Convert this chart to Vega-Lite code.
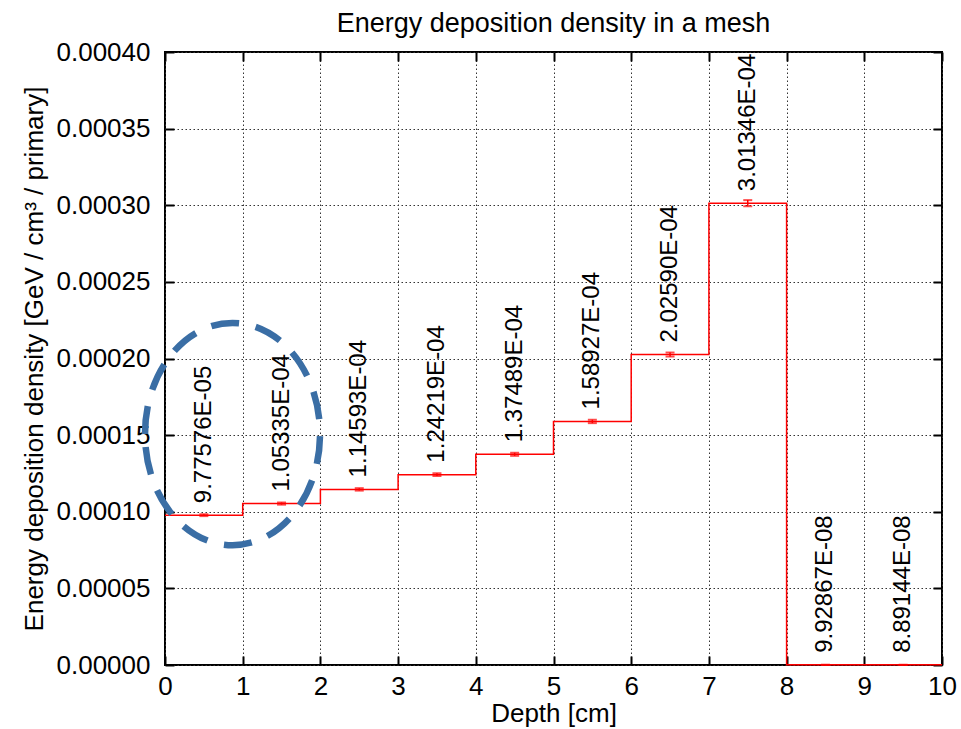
{
  "$schema": "https://vega.github.io/schema/vega-lite/v6.json",
  "width": 777,
  "height": 613,
  "autosize": {"type": "none"},
  "padding": {"left": 165, "top": 52, "right": 19, "bottom": 64},
  "background": "white",
  "title": {"text": "Energy deposition density in a mesh", "frame": "group", "anchor": "middle", "fontSize": 27, "font": "Liberation Sans", "fontWeight": "normal", "color": "black", "baseline": "alphabetic", "offset": -20},
  "config": {
    "view": {"stroke": "black", "strokeWidth": 2},
    "font": "Liberation Sans",
    "axis": {
      "domain": false, "grid": false, "labelFlush": false, "minExtent": 0,
      "gridColor": "#333333", "gridDash": [1.5, 2.5], "gridWidth": 1, "gridOpacity": 1,
      "tickColor": "black", "tickWidth": 2, "tickSize": -9,
      "labelFont": "Liberation Sans", "labelFontSize": 26, "labelColor": "black",
      "titleFont": "Liberation Sans", "titleFontSize": 26, "titleFontWeight": "normal", "titleColor": "black"
    }
  },
  "datasets": {
    "steps": [
      {"depth": 0, "value": 9.77576e-5},
      {"depth": 1, "value": 1.05335e-4},
      {"depth": 2, "value": 1.14593e-4},
      {"depth": 3, "value": 1.24219e-4},
      {"depth": 4, "value": 1.37489e-4},
      {"depth": 5, "value": 1.58927e-4},
      {"depth": 6, "value": 2.02590e-4},
      {"depth": 7, "value": 3.01346e-4},
      {"depth": 8, "value": 9.92867e-8},
      {"depth": 9, "value": 8.89144e-8},
      {"depth": 10, "value": 8.89144e-8}
    ],
    "bins": [
      {"mid": 0.5, "value": 9.77576e-5, "err": 6e-7, "label": "9.77576E-05"},
      {"mid": 1.5, "value": 1.05335e-4, "err": 7e-7, "label": "1.05335E-04"},
      {"mid": 2.5, "value": 1.14593e-4, "err": 8e-7, "label": "1.14593E-04"},
      {"mid": 3.5, "value": 1.24219e-4, "err": 9e-7, "label": "1.24219E-04"},
      {"mid": 4.5, "value": 1.37489e-4, "err": 1.0e-6, "label": "1.37489E-04"},
      {"mid": 5.5, "value": 1.58927e-4, "err": 1.1e-6, "label": "1.58927E-04"},
      {"mid": 6.5, "value": 2.02590e-4, "err": 1.3e-6, "label": "2.02590E-04"},
      {"mid": 7.5, "value": 3.01346e-4, "err": 2.0e-6, "label": "3.01346E-04"},
      {"mid": 8.5, "value": 9.92867e-8, "err": 1e-8, "label": "9.92867E-08"},
      {"mid": 9.5, "value": 8.89144e-8, "err": 1e-8, "label": "8.89144E-08"}
    ]
  },
  "layer": [
    {
      "data": {"name": "steps"},
      "mark": {"type": "line", "interpolate": "step-after", "color": "#ff0000", "strokeWidth": 1.5},
      "encoding": {
        "x": {"field": "depth", "type": "quantitative", "scale": {"domain": [0, 10], "nice": false},
          "axis": {"orient": "bottom", "grid": true, "values": [0,1,2,3,4,5,6,7,8,9,10], "format": "d", "title": "Depth [cm]", "labelPadding": 17, "titlePadding": 1}},
        "y": {"field": "value", "type": "quantitative", "scale": {"domain": [0, 0.0004], "nice": false, "zero": true},
          "axis": {"orient": "left", "grid": true, "values": [0, 0.00005, 0.0001, 0.00015, 0.0002, 0.00025, 0.0003, 0.00035, 0.0004], "format": ".5f", "title": "Energy deposition density [GeV / cm³ / primary]", "labelPadding": 24, "titlePadding": 9}}
      }
    },
    {
      "data": {"name": "bins"},
      "mark": {"type": "errorbar", "color": "#ff0000", "ticks": {"size": 9, "color": "#ff0000", "thickness": 2}, "rule": {"strokeWidth": 1.5}},
      "encoding": {
        "x": {"field": "mid", "type": "quantitative", "axis": null},
        "y": {"field": "value", "type": "quantitative", "axis": null},
        "yError": {"field": "err"}
      }
    },
    {
      "data": {"name": "bins"},
      "mark": {"type": "text", "angle": 270, "align": "left", "baseline": "middle", "dx": 12, "fontSize": 24, "font": "Liberation Sans", "color": "black"},
      "encoding": {
        "x": {"field": "mid", "type": "quantitative",
          "axis": {"orient": "top", "values": [0,1,2,3,4,5,6,7,8,9,10], "labels": false, "title": null, "grid": false, "minExtent": 0, "maxExtent": 0}},
        "y": {"field": "value", "type": "quantitative",
          "axis": {"orient": "right", "values": [0, 0.00005, 0.0001, 0.00015, 0.0002, 0.00025, 0.0003, 0.00035, 0.0004], "labels": false, "title": null, "grid": false}},
        "text": {"field": "label"}
      }
    },
    {
      "data": {"values": [{"cx": 0.869, "cy": 0.0001507}]},
      "mark": {"type": "point", "shape": "M -1 0 C -1 -0.7014 -0.5523 -1.27 0 -1.27 C 0.5523 -1.27 1 -0.7014 1 0 C 1 0.7014 0.5523 1.27 0 1.27 C -0.5523 1.27 -1 0.7014 -1 0 Z", "size": 30625, "filled": false, "stroke": "#3a6ea5", "strokeWidth": 6.5, "strokeDash": [28, 17], "opacity": 1},
      "encoding": {
        "x": {"field": "cx", "type": "quantitative", "axis": null},
        "y": {"field": "cy", "type": "quantitative", "axis": null}
      }
    }
  ],
  "resolve": {"axis": {"x": "independent", "y": "independent"}}
}
